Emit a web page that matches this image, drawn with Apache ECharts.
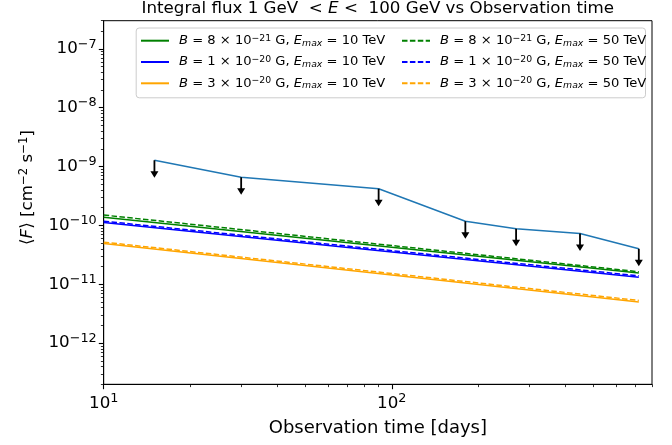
<!DOCTYPE html>
<html>
<head>
<meta charset="utf-8">
<script src="https://cdn.jsdelivr.net/npm/echarts@6/dist/echarts.min.js"></script>
<style>
html,body{margin:0;padding:0;background:#fff;}
#chart{width:672px;height:445px;}
</style>
</head>
<body>
<div id="chart"></div>
<script>
// ---- data ----
const timeDays = [15, 30, 90, 180, 270, 450, 720];
const fluxUpperLimits = [1.28e-9, 6.6e-10, 4.2e-10, 1.18e-10, 8.8e-11, 7.3e-11, 4.0e-11];
const modelTime = [10, 720];
const fluxB8e21E10 = [1.38e-10, 1.55e-11];
const fluxB8e21E50 = [1.50e-10, 1.63e-11];
const fluxB1e20E10 = [1.12e-10, 1.32e-11];
const fluxB1e20E50 = [1.18e-10, 1.39e-11];
const fluxB3e20E10 = [4.93e-11, 4.99e-12];
const fluxB3e20E50 = [5.2e-11, 5.31e-12];
const bMantissa = ['8', '1', '3'];
const bExponent = ['−21', '−20', '−20'];
const eMaxTeV = ['10', '50'];
const xMajorTicks = [10, 100];
const yMajorTicks = [1e-12, 1e-11, 1e-10, 1e-9, 1e-8, 1e-7];
const xMinorTicks = [20, 30, 40, 50, 60, 70, 80, 90, 200, 300, 400, 500, 600, 700, 800];
const yMinorTicks = [];
[-13, -12, -11, -10, -9, -8, -7].forEach(function (d) {
  for (let k = 2; k <= 9; k++) yMinorTicks.push(k * Math.pow(10, d));
});
const xRange = [10, 800];
const yRange = [2e-13, 3e-7];

// ---- styling ----
const FONT = 'DejaVu Sans';
const colors = ['green', 'blue', 'orange'];
const modelSets = [
  [fluxB8e21E10, fluxB8e21E50],
  [fluxB1e20E10, fluxB1e20E50],
  [fluxB3e20E10, fluxB3e20E50]
];

function pair(xs, ys) { return xs.map(function (x, i) { return [x, ys[i]]; }); }
function powLabel(v) {
  const e = Math.round(Math.log10(v));
  return '10{sup|' + (e < 0 ? '−' : '') + Math.abs(e) + '}';
}

const nameRich = {};
const series = [];
const solidNames = [], dashedNames = [];
for (let b = 0; b < 3; b++) {
  for (let e = 0; e < 2; e++) {
    const name = 'B = ' + bMantissa[b] + ' × 10^' + bExponent[b] + ' G, Emax = ' + eMaxTeV[e] + ' TeV';
    nameRich[name] = '{i|B} = ' + bMantissa[b] + ' × 10{sup|' + bExponent[b] + '} G, {i|E}{sub|max} = ' + eMaxTeV[e] + ' TeV';
    (e === 0 ? solidNames : dashedNames).push(name);
    series.push({
      name: name,
      type: 'line',
      data: pair(modelTime, modelSets[b][e]),
      symbol: 'none',
      lineStyle: { color: colors[b], width: 1.5, type: e === 0 ? 'solid' : [5.5, 2.4] },
      itemStyle: { color: colors[b] },
      z: 3
    });
  }
}
series.push({
  name: 'UL',
  type: 'line',
  data: pair(timeDays, fluxUpperLimits),
  symbol: 'none',
  lineStyle: { color: '#1f77b4', width: 1.5 },
  z: 4
});
series.push({
  name: 'ULarrow',
  type: 'scatter',
  data: pair(timeDays, fluxUpperLimits),
  symbol: 'path://M3.1,0 L4.9,0 L4.9,11 L8,11 L4,17.5 L0,11 L3.1,11 Z',
  symbolSize: [8, 17.5],
  symbolOffset: [0, 8.75],
  itemStyle: { color: '#000', opacity: 1 },
  z: 5
});

const LF = 13.1;
const legendCommon = {
  orient: 'vertical',
  top: 33.7,
  padding: 0,
  itemWidth: 28,
  itemHeight: 14,
  itemGap: 7.3,
  selectedMode: false,
  itemStyle: { color: 'rgba(0,0,0,0)', borderWidth: 0, opacity: 0 },
  formatter: function (n) { return nameRich[n]; },
  textStyle: {
    fontFamily: FONT, fontSize: LF, color: '#000', lineHeight: 14, padding: [0, 0, 0, 5],
    rich: {
      i: { fontFamily: FONT, fontSize: LF, fontStyle: 'italic', lineHeight: 14 },
      sup: { fontFamily: FONT, fontSize: 9.3, lineHeight: 7, verticalAlign: 'top' },
      sub: { fontFamily: FONT, fontSize: 9.3, fontStyle: 'italic', lineHeight: 8, verticalAlign: 'bottom' }
    }
  }
};

const axisLabelRich = { sup: { fontFamily: FONT, fontSize: 12.8, lineHeight: 11, verticalAlign: 'top' } };

const chart = echarts.init(document.getElementById('chart'), null, { renderer: 'canvas' });
chart.setOption({
  animation: false,
  backgroundColor: '#fff',
  title: {
    text: 'Integral flux 1 GeV  < {i|E} <  100 GeV vs Observation time',
    left: 377.8, top: -1, padding: 0, textAlign: 'center',
    textStyle: {
      fontFamily: FONT, fontSize: 16.7, fontWeight: 'normal', color: '#000', lineHeight: 20,
      rich: { i: { fontFamily: FONT, fontSize: 16.7, fontStyle: 'italic', lineHeight: 20 } }
    }
  },
  grid: { left: 103.7, right: 20, top: 20.7, bottom: 60.7, show: true, borderColor: '#000', borderWidth: 1, backgroundColor: 'transparent' },
  graphic: [{
    type: 'rect', left: 135.7, top: 27.5, z: 1,
    shape: { width: 509.3, height: 69.8, r: 3 },
    style: { fill: 'rgba(255,255,255,0.8)', stroke: '#cccccc', lineWidth: 1 }
  }],
  legend: [
    Object.assign({}, legendCommon, { left: 140, data: solidNames }),
    Object.assign({}, legendCommon, { left: 401, data: dashedNames })
  ],
  xAxis: [{
    type: 'log', logBase: 10, min: xRange[0], max: xRange[1], position: 'bottom',
    name: 'Observation time [days]', nameLocation: 'middle', nameGap: 32,
    nameTextStyle: { fontFamily: FONT, fontSize: 18, color: '#000' },
    axisLine: { lineStyle: { color: '#000', width: 1 } },
    axisTick: { length: 4.9, lineStyle: { color: '#000', width: 1.1 }, customValues: xMajorTicks },
    axisLabel: { customValues: xMajorTicks, formatter: powLabel, margin: 8, fontFamily: FONT, fontSize: 16.7, color: '#000', lineHeight: 22, rich: axisLabelRich },
    splitLine: { show: false }
  }, {
    type: 'log', logBase: 10, min: xRange[0], max: xRange[1], position: 'bottom', gridIndex: 0,
    axisLine: { show: false },
    axisTick: { length: 2.8, lineStyle: { color: '#000', width: 0.8 }, customValues: xMinorTicks },
    axisLabel: { show: false },
    splitLine: { show: false }
  }],
  yAxis: [{
    type: 'log', logBase: 10, min: yRange[0], max: yRange[1], position: 'left',
    name: '⟨{i|F}⟩ [cm{sup|−2} s{sup|−1}]', nameLocation: 'middle', nameGap: 63,
    nameTextStyle: {
      fontFamily: FONT, fontSize: 16.7, color: '#000', lineHeight: 20, padding: [0, 0, 0, 30],
      rich: {
        i: { fontFamily: FONT, fontSize: 16.7, fontStyle: 'italic', lineHeight: 20 },
        sup: { fontFamily: FONT, fontSize: 11.7, lineHeight: 8, verticalAlign: 'top' }
      }
    },
    axisLine: { lineStyle: { color: '#000', width: 1 } },
    axisTick: { length: 4.9, lineStyle: { color: '#000', width: 1.1 }, customValues: yMajorTicks },
    axisLabel: { customValues: yMajorTicks, formatter: powLabel, margin: 7, fontFamily: FONT, fontSize: 16.7, color: '#000', lineHeight: 22, rich: axisLabelRich },
    splitLine: { show: false }
  }, {
    type: 'log', logBase: 10, min: yRange[0], max: yRange[1], position: 'left', gridIndex: 0,
    axisLine: { show: false },
    axisTick: { length: 2.8, lineStyle: { color: '#000', width: 0.8 }, customValues: yMinorTicks },
    axisLabel: { show: false },
    splitLine: { show: false }
  }],
  series: series
});
</script>
</body>
</html>
